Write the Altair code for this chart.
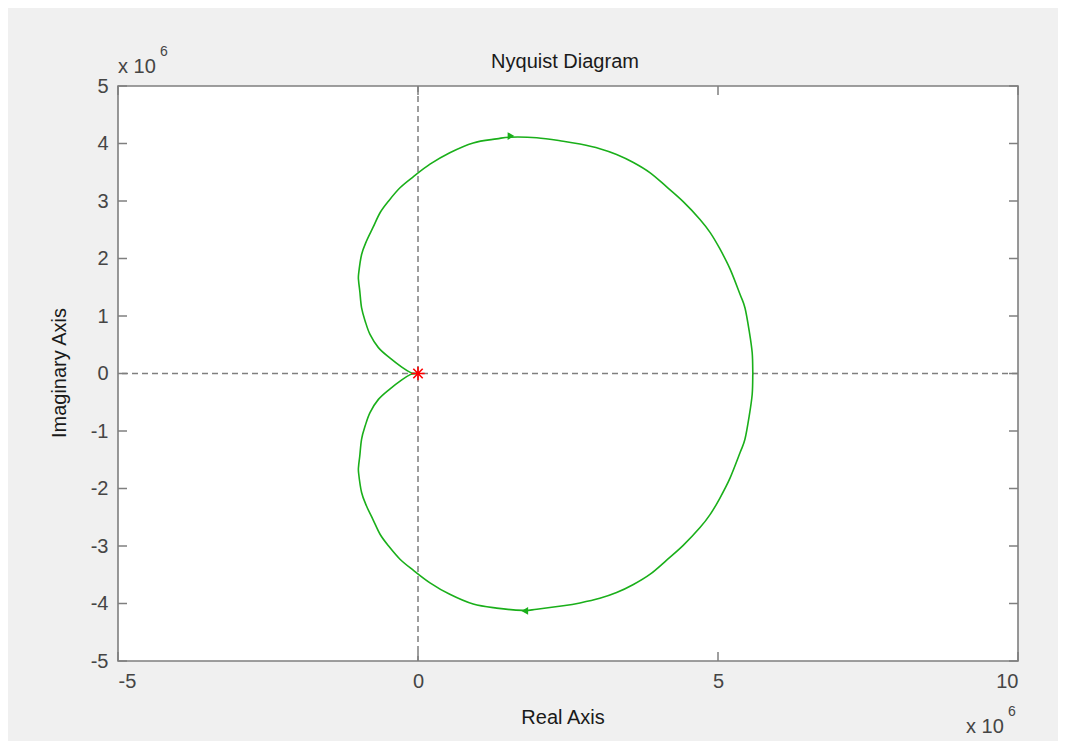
import altair as alt
import pandas as pd

# Nyquist curve (units of 1e6)
upper_re = [0.0, -0.05, -0.13, -0.27, -0.47, -0.66, -0.80, -0.88, -0.94, -0.97, -0.99, -0.99,
            -0.94, -0.86, -0.75, -0.63, -0.49, -0.30, -0.08, 0.20, 0.53, 0.92, 1.31, 1.53,
            1.98, 2.42, 2.70, 3.03, 3.31, 3.59, 3.87, 4.14, 4.42, 4.70, 4.87, 5.03, 5.20,
            5.37, 5.45, 5.52, 5.57, 5.58]
upper_im = [0.0, 0.00, 0.02, 0.11, 0.27, 0.45, 0.68, 0.91, 1.14, 1.43, 1.61, 1.73,
            2.07, 2.30, 2.54, 2.80, 3.00, 3.23, 3.42, 3.64, 3.84, 4.01, 4.08, 4.11,
            4.10, 4.04, 3.99, 3.91, 3.81, 3.67, 3.49, 3.25, 2.99, 2.68, 2.45, 2.17, 1.82,
            1.37, 1.14, 0.74, 0.36, 0.0]
lower_re = [5.58, 5.57, 5.52, 5.45, 5.37, 5.20, 5.03, 4.87, 4.70, 4.42, 4.14, 3.87, 3.59,
            3.31, 3.03, 2.70, 2.42, 1.98, 1.75, 1.31, 0.92, 0.53, 0.20, -0.08, -0.30, -0.49,
            -0.63, -0.75, -0.86, -0.94, -0.99, -0.99, -0.97, -0.94, -0.88, -0.80, -0.66,
            -0.47, -0.27, -0.13, -0.05, 0.0]
lower_im = [0.0, -0.36, -0.74, -1.14, -1.37, -1.82, -2.17, -2.45, -2.68, -2.99, -3.25, -3.49,
            -3.67, -3.81, -3.91, -3.99, -4.04, -4.10, -4.12, -4.08, -4.01, -3.84, -3.64, -3.42,
            -3.23, -3.00, -2.80, -2.54, -2.30, -2.07, -1.73, -1.61, -1.43, -1.14, -0.91,
            -0.68, -0.45, -0.27, -0.11, -0.02, 0.00, 0.0]

arrow_re = [1.55, 1.78]
arrow_im = [4.13, -4.13]
arrow_shape = ["triangle-right", "triangle-left"]

crit_re = [0.0]
crit_im = [0.0]

x_ticks = [-5, 0, 5, 10]
y_ticks = [-5, -4, -3, -2, -1, 0, 1, 2, 3, 4, 5]

FONT = "Liberation Sans"
GREEN = "#1aaf1a"
GRAY = "#7f7f7f"
LABEL = "#454545"

re_all = upper_re + lower_re
im_all = upper_im + lower_im
curve = pd.DataFrame({"re": re_all, "im": im_all, "k": list(range(len(re_all)))})
arrows = pd.DataFrame({"re": arrow_re, "im": arrow_im, "shape": arrow_shape})
crit = pd.DataFrame({"re": crit_re, "im": crit_im})
xt = pd.DataFrame({"v": x_ticks})
yt = pd.DataFrame({"v": y_ticks})

W, H = 900, 575

xscale = alt.Scale(domain=[-5, 10], nice=False, zero=False)
yscale = alt.Scale(domain=[-5, 5], nice=False, zero=False)

xaxis = alt.Axis(values=x_ticks, grid=False, ticks=False, domain=False, labelFont=FONT,
                 labelFontSize=20, labelColor=LABEL, labelPadding=10, title=None,
                 labelExpr="'' + datum.value")
yaxis = alt.Axis(values=y_ticks, grid=False, ticks=False, domain=False, labelFont=FONT,
                 labelFontSize=20, labelColor=LABEL, labelPadding=10, title=None,
                 labelExpr="'' + datum.value")

line = alt.Chart(curve).mark_line(color=GREEN, strokeWidth=1.6, interpolate="cardinal").encode(
    x=alt.X("re:Q", scale=xscale, axis=xaxis),
    y=alt.Y("im:Q", scale=yscale, axis=yaxis),
    order="k:Q",
)

zero_v = alt.Chart(crit).mark_rule(color=GRAY, strokeWidth=1.5, strokeDash=[6, 4]).encode(
    x=alt.X("re:Q", scale=xscale))
zero_h = alt.Chart(crit).mark_rule(color=GRAY, strokeWidth=1.5, strokeDash=[6, 4]).encode(
    y=alt.Y("im:Q", scale=yscale))

arr = alt.Chart(arrows).mark_point(filled=True, color=GREEN, opacity=1, size=60).encode(
    x=alt.X("re:Q", scale=xscale),
    y=alt.Y("im:Q", scale=yscale),
    shape=alt.Shape("shape:N", scale=None),
)

star = alt.Chart(crit).mark_point(
    shape="M-1,0L1,0M0,-1L0,1M-0.7,-0.7L0.7,0.7M-0.7,0.7L0.7,-0.7",
    filled=False, color="#ff0000", strokeWidth=1.6, size=180, opacity=1,
).encode(x=alt.X("re:Q", scale=xscale), y=alt.Y("im:Q", scale=yscale))

tick_len = 9
tb = alt.Chart(xt).mark_rule(color=GRAY, strokeWidth=1.5).encode(
    x=alt.X("v:Q", scale=xscale), y=alt.value(H), y2=alt.value(H - tick_len))
tt = alt.Chart(xt).mark_rule(color=GRAY, strokeWidth=1.5).encode(
    x=alt.X("v:Q", scale=xscale), y=alt.value(0), y2=alt.value(tick_len))
tl = alt.Chart(yt).mark_rule(color=GRAY, strokeWidth=1.5).encode(
    y=alt.Y("v:Q", scale=yscale), x=alt.value(0), x2=alt.value(tick_len))
tr = alt.Chart(yt).mark_rule(color=GRAY, strokeWidth=1.5).encode(
    y=alt.Y("v:Q", scale=yscale), x=alt.value(W), x2=alt.value(W - tick_len))


def label(text, x, y, size=20, color="#1a1a1a", align="center", angle=0):
    kw = dict(text=text, font=FONT, fontSize=size, color=color, align=align,
              baseline="middle")
    if angle:
        kw["angle"] = angle
    return alt.Chart(crit).mark_text(**kw).encode(x=alt.value(x), y=alt.value(y))


texts = [
    label("Nyquist Diagram", 447, -24),
    label("Real Axis", 445, 632),
    label("Imaginary Axis", -58, 287, angle=270),
    label("x 10", 0, -19, color=LABEL, align="left"),
    label("6", 42, -34, size=14, color=LABEL, align="left"),
    label("x 10", 848, 641, color=LABEL, align="left"),
    label("6", 890, 626, size=14, color=LABEL, align="left"),
]

chart = alt.layer(zero_v, zero_h, tb, tt, tl, tr, line, arr, star, *texts).properties(
    width=W, height=H,
    padding={"left": 110, "top": 78, "right": 40, "bottom": 80},
    autosize=alt.AutoSizeParams(type="none"),
    background="#f0f0f0",
).configure_view(fill="white", stroke=GRAY, strokeWidth=1.6)

chart.save("out.html", embed_options={"renderer": "svg", "actions": False})
